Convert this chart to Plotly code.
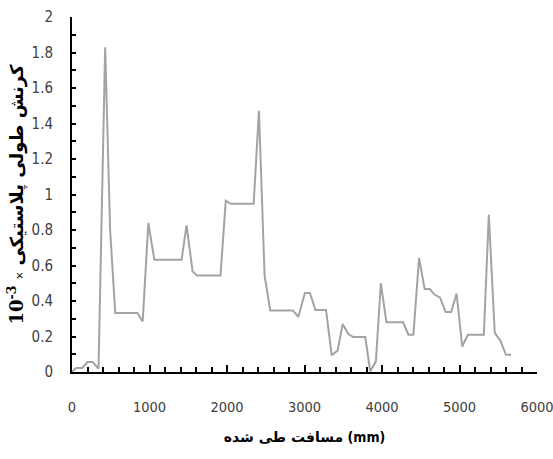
import plotly.graph_objects as go

distance_mm = [0, 30, 60, 130, 200, 265, 342, 428, 492, 558, 700, 844, 912, 985, 1062,
               1200, 1414, 1478, 1556, 1615, 1800, 1916, 1984, 2048, 2200, 2344, 2412,
               2485, 2558, 2700, 2849, 2920, 3005, 3070, 3141, 3278, 3351, 3428, 3492,
               3565, 3629, 3784, 3848, 3921, 3985, 4057, 4272, 4341, 4405, 4478, 4551,
               4616, 4680, 4748, 4821, 4893, 4962, 5035, 5108, 5314, 5378, 5455, 5528,
               5600, 5665]
plastic_strain = [0, 0.015, 0.023, 0.023, 0.056, 0.056, 0.02, 1.83, 0.80, 0.332, 0.332,
                  0.332, 0.285, 0.84, 0.633, 0.633, 0.633, 0.826, 0.567, 0.543, 0.543,
                  0.543, 0.965, 0.948, 0.948, 0.948, 1.472, 0.543, 0.347, 0.347, 0.347,
                  0.31, 0.445, 0.445, 0.35, 0.35, 0.094, 0.122, 0.27, 0.214, 0.197, 0.197,
                  0.003, 0.06, 0.50, 0.28, 0.28, 0.21, 0.21, 0.642, 0.467, 0.467, 0.435,
                  0.42, 0.338, 0.338, 0.441, 0.144, 0.21, 0.21, 0.886, 0.22, 0.176, 0.097,
                  0.097]

y_tickvals = [0, 0.2, 0.4, 0.6, 0.8, 1.0, 1.2, 1.4, 1.6, 1.8, 2.0]
y_ticktext = ["0", "0.2", "0.4", "0.6", "0.8", "1", "1.2", "1.4", "1.6", "1.8", "2"]
x_tickvals = [0, 1000, 2000, 3000, 4000, 5000, 6000]

x_title = ("<b>مسافت طی شده</b> "
           "<b><span style='font-family:DejaVu Sans Condensed'>(mm)</span></b>")
y_title = ("<b><span style='font-family:DejaVu Serif'>10<sup>-3</sup></span></b> "
           "<span style='font-size:10px'>×</span> <b>کرنش طولی پلاستیکی</b>")

font_family = "DejaVu Sans Condensed, DejaVu Sans, sans-serif"

fig = go.Figure(go.Scatter(
    x=distance_mm, y=plastic_strain, mode="lines",
    line=dict(color="#a3a3a3", width=2), showlegend=False))

fig.update_layout(
    width=553, height=459,
    margin=dict(l=72, r=16, t=17, b=87),
    paper_bgcolor="white", plot_bgcolor="white",
    font=dict(family=font_family, color="#404040", size=14),
    xaxis=dict(
        range=[0, 6000], tickvals=x_tickvals, showgrid=False, zeroline=False,
        showline=True, linecolor="black", linewidth=2, automargin=False,
        ticklabeloverflow="allow",
        ticks="inside", ticklen=7, tickwidth=2, tickcolor="black",
        minor=dict(dtick=200, tick0=0, ticks="inside", ticklen=5, tickwidth=1.5, tickcolor="black"),
        ticklabelstandoff=21,
        tickfont=dict(size=14.5),
        title=dict(text=x_title, standoff=18,
                   font=dict(size=14, color="black", family="DejaVu Sans, sans-serif")),
    ),
    yaxis=dict(
        range=[0, 2], tickvals=y_tickvals, ticktext=y_ticktext, showgrid=False, zeroline=False,
        showline=True, linecolor="black", linewidth=2, automargin=False,
        ticklabeloverflow="allow",
        ticks="inside", ticklen=4, tickwidth=2, tickcolor="black",
        minor=dict(dtick=0.1, tick0=0, ticks="inside", ticklen=4, tickwidth=2, tickcolor="black"),
        ticklabelstandoff=14,
        tickfont=dict(size=15),
        title=dict(text=y_title, standoff=3,
                   font=dict(size=18, color="black", family="DejaVu Sans, sans-serif")),
    ),
)

# Remove the browser's default 8px body margin so the figure fills the window exactly.
fig.write_html("out.html", config={"displayModeBar": False},
               post_script="document.body.style.margin='0px';")
